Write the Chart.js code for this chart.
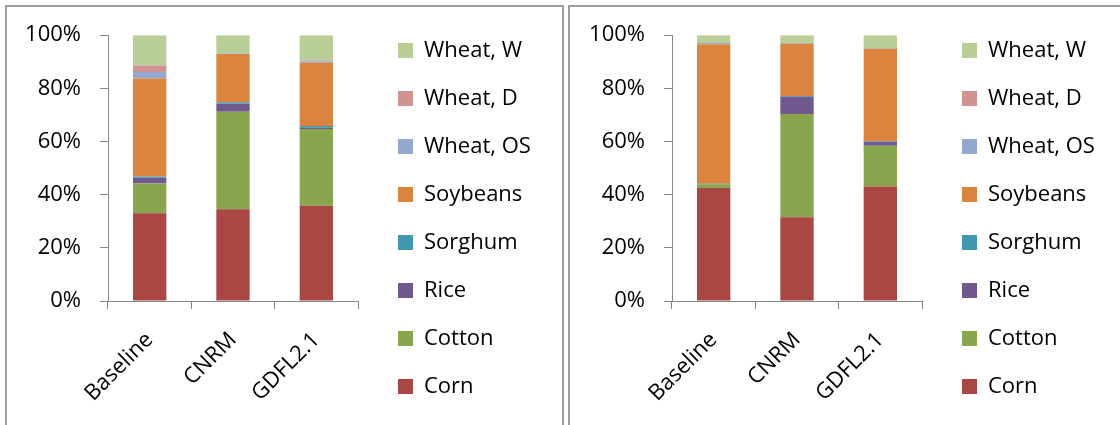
<!DOCTYPE html>
<html>
<head>
<meta charset="utf-8">
<title>Crop shares</title>
<script src="https://cdn.jsdelivr.net/npm/chart.js@4"></script>
<style>
  body { margin: 0; width: 1120px; height: 425px; overflow: hidden; background: #fff; position: relative; }
  .panel { position: absolute; top: 5px; height: 440px; border: 2px solid #9c9c9c; box-sizing: border-box; }
  #panelA { left: 5px; width: 559px; }
  #panelB { left: 568px; width: 600px; }
  canvas { position: absolute; top: 3px; }
  #chartA { left: 8px; }
  #chartB { left: 572px; }
</style>
</head>
<body>
<div class="panel" id="panelA"></div>
<div class="panel" id="panelB"></div>
<canvas id="chartA" width="524" height="431"></canvas>
<canvas id="chartB" width="524" height="431"></canvas>
<script>
const categories = ["Baseline", "CNRM", "GDFL2.1"];
const crops = ["Corn", "Cotton", "Rice", "Sorghum", "Soybeans", "Wheat, OS", "Wheat, D", "Wheat, W"];
const cropColors = ["#AA4643", "#89A54E", "#71588F", "#4198AF", "#DB843D", "#93A9CF", "#D19392", "#B9CD96"];
const yTicks = [0, 20, 40, 60, 80, 100];

// left chart, share of area in %
const cornA = [33.0, 34.5, 35.8];
const cottonA = [11.2, 36.7, 28.9];
const riceA = [2.2, 3.0, 0.5];
const sorghumA = [0.4, 0.6, 0.6];
const soybeansA = [36.9, 18.1, 23.8];
const wheatOSA = [2.5, 0.2, 0.6];
const wheatDA = [2.4, 0.0, 0.3];
const wheatWA = [11.4, 6.9, 9.5];

// right chart
const cornB = [42.5, 31.5, 43.1];
const cottonB = [1.4, 38.9, 15.3];
const riceB = [0.1, 6.4, 1.5];
const sorghumB = [0.1, 0.3, 0.2];
const soybeansB = [52.5, 19.7, 34.8];
const wheatOSB = [0.5, 0.3, 0.2];
const wheatDB = [0.0, 0.0, 0.1];
const wheatWB = [2.9, 2.9, 4.8];

const AXIS = "#868686";

Chart.defaults.font.family = "'Open Sans', sans-serif";
Chart.defaults.font.size = 22;
Chart.defaults.color = "#000";

function renderShareChart(canvasId, shares) {
  const ctx = document.getElementById(canvasId).getContext("2d");
  return new Chart(ctx, {
    type: "bar",
    data: {
      labels: categories,
      datasets: crops.map((name, i) => ({
        label: name,
        data: shares[i],
        backgroundColor: cropColors[i],
        borderWidth: 0,
        barPercentage: 0.4,
        categoryPercentage: 1,
      })),
    },
    options: {
      responsive: false,
      animation: false,
      layout: { padding: 0 },
      plugins: {
        tooltip: { enabled: false },
        legend: {
          position: "right",
          reverse: true,
          maxWidth: 160,
          labels: { boxWidth: 15, boxHeight: 15, padding: 26, color: "#000" },
        },
      },
      scales: {
        x: {
          stacked: true,
          grid: { drawOnChartArea: false, tickLength: 8, color: AXIS },
          border: { color: AXIS },
          ticks: { minRotation: 45, maxRotation: 45, padding: 18, color: "#000" },
          afterFit: (s) => { s.height = 133; },
        },
        y: {
          stacked: true,
          min: 0,
          max: 100,
          grid: { drawOnChartArea: false, tickLength: 8, color: AXIS },
          border: { color: AXIS },
          ticks: { padding: 19, color: "#000", callback: (v) => v + "%" },
          afterBuildTicks: (s) => { s.ticks = yTicks.map((v) => ({ value: v })); },
          afterFit: (s) => { s.width = 100; },
        },
        // empty box that leaves a gap between the plot and the legend
        yRight: {
          type: "linear",
          position: "right",
          grid: { display: false },
          border: { display: false },
          ticks: { display: false },
          afterFit: (s) => { s.width = 14; },
        },
      },
    },
  });
}

renderShareChart("chartA", [cornA, cottonA, riceA, sorghumA, soybeansA, wheatOSA, wheatDA, wheatWA]);
renderShareChart("chartB", [cornB, cottonB, riceB, sorghumB, soybeansB, wheatOSB, wheatDB, wheatWB]);
</script>
</body>
</html>
